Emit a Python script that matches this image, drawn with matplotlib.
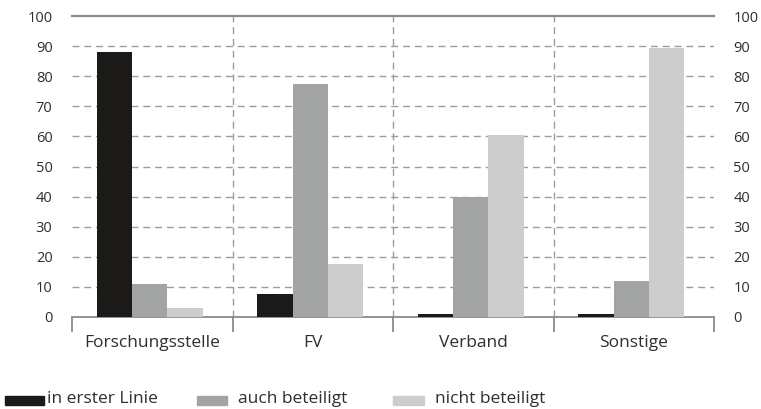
import numpy as np
import matplotlib.pyplot as plt
from matplotlib.patches import Rectangle

categories = ["Forschungsstelle", "FV", "Verband", "Sonstige"]
series_names = ["in erster Linie", "auch beteiligt", "nicht beteiligt"]
erster_linie = [88, 7.5, 1, 1]
auch_beteiligt = [11, 77.5, 40, 12]
nicht_beteiligt = [3, 17.5, 60.5, 89.5]
y_ticks = [0, 10, 20, 30, 40, 50, 60, 70, 80, 90, 100]

colors = ["#1b1a19", "#a2a4a3", "#cdcdcd"]
text_col = "#2e2e2e"
grid_col = "#9c9c9c"

plt.rcParams["font.family"] = ["Open Sans", "DejaVu Sans"]
plt.rcParams["font.size"] = 11

fig = plt.figure(figsize=(7.61, 4.09), dpi=100)
ax = fig.add_axes([72 / 761, 1 - 317 / 409, 642 / 761, 301 / 409])

x = np.arange(len(categories))
w = 0.22
for i, vals in enumerate([erster_linie, auch_beteiligt, nicht_beteiligt]):
    ax.bar(x - 0.015 + (i - 1) * w, vals, width=w, color=colors[i], zorder=3)

ax.set_xlim(-0.5, len(categories) - 0.5)
ax.set_ylim(0, 100)

# horizontal grid
for t in y_ticks[1:-1]:
    ax.axhline(t, color=grid_col, lw=1, ls=(0, (5, 3.5)), zorder=1)
ax.axhline(100, color="#8a8a8a", lw=1.6, zorder=2, clip_on=False)
# vertical separators
for b in np.arange(0.5, len(categories) - 0.5, 1):
    ax.axvline(b, color=grid_col, lw=1, ls=(0, (5, 3.5)), zorder=1)

for s in ["top", "left", "right"]:
    ax.spines[s].set_visible(False)
ax.spines["bottom"].set_color("#8a8a8a")
ax.spines["bottom"].set_linewidth(1.3)

ax.set_xticks(np.arange(-0.5, len(categories), 1))
ax.set_xticklabels([])
ax.tick_params(axis="x", which="major", length=11, width=1.3, color="#8a8a8a")
ax.set_xticks(x, minor=True)
ax.set_xticklabels(categories, minor=True, color=text_col, fontsize=12.5)
ax.tick_params(axis="x", which="minor", length=0, pad=13)

ax.set_yticks(y_ticks)
ax.tick_params(axis="y", length=0, pad=14, labelcolor=text_col, labelsize=10.5,
               labelleft=True, labelright=True)

# legend
leg_items = [(5, 44, 47), (197, 227, 238), (393, 424, 435)]
for (x0, x1, tx), name, c in zip(leg_items, series_names, colors):
    fig.patches.append(Rectangle((x0 / 761, 1 - 405 / 409), (x1 - x0) / 761, 9 / 409,
                                 transform=fig.transFigure, color=c))
    fig.text(tx / 761, 1 - 399 / 409, name, va="center", ha="left",
             color=text_col, fontsize=12.5)

fig.savefig("out.png", dpi=100)
